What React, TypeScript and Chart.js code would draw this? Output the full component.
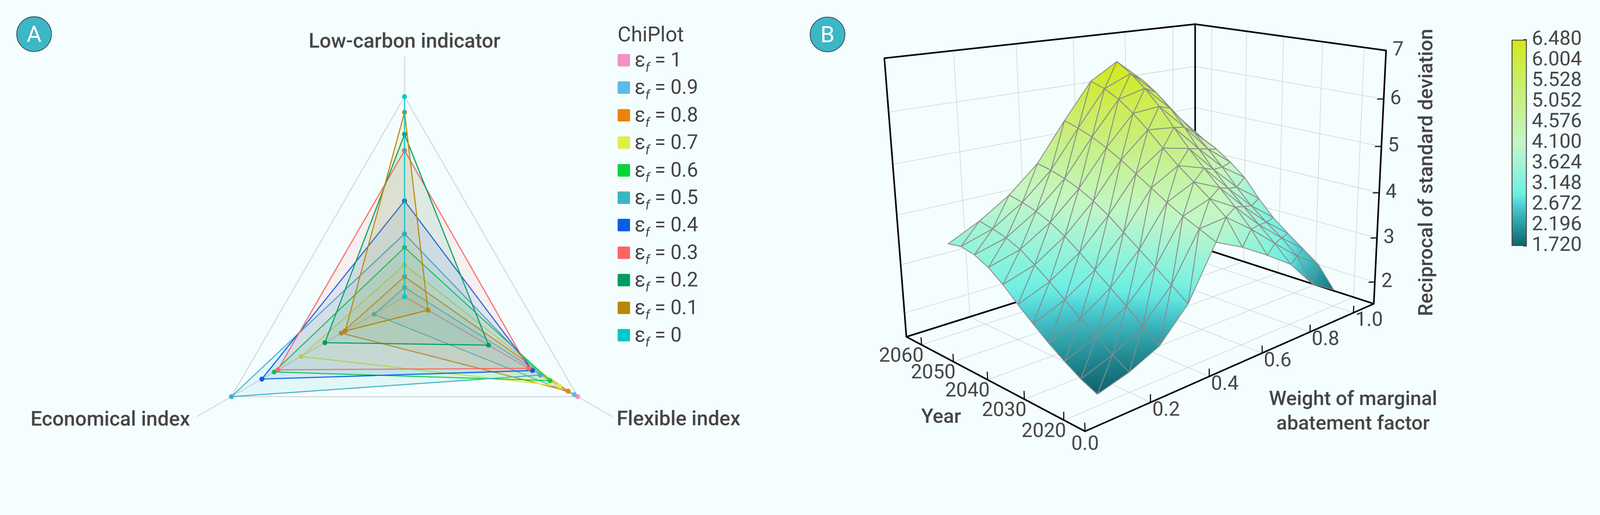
import { useEffect, useRef } from 'react';
import { Chart, registerables } from 'chart.js';

Chart.register(...registerables);

const PAGE_W = 4505, PAGE_H = 1318;
const PAGE_BG = '#F5FEFE';
const INK = '#444444';
const FONT = 'Roboto, "Noto Sans", sans-serif';

// ---------- panel A : radar ----------
const RADAR_AXES = ['Low-carbon indicator', 'Flexible index', 'Economical index'];
const EPS_LABELS = ['1', '0.9', '0.8', '0.7', '0.6', '0.5', '0.4', '0.3', '0.2', '0.1', '0'];
const EPS_COLORS = ['#F291C4', '#5ABCE6', '#EE8208', '#DDEE4A', '#06D43A', '#3CB4C4', '#0A5EE6', '#FF6464', '#009E60', '#B8860B', '#00C8CC'];
const LOW_CARBON = [0, 0.046, 0.1, 0.159, 0.246, 0.314, 0.479, 0.731, 0.812, 0.922, 1.0];
const FLEXIBLE = [1.0, 0.98, 0.945, 0.894, 0.84, 0.784, 0.739, 0.717, 0.485, 0.135, 0];
const ECONOMICAL = [0, 0.176, 0.365, 0.598, 0.753, 1.0, 0.824, 0.732, 0.46, 0.343, 0];

// ---------- panel B : surface ----------
const YEARS = [2020, 2024, 2028, 2032, 2036, 2040, 2044, 2048, 2052, 2056, 2060];
const WEIGHTS = [0.1, 0.2, 0.3, 0.4, 0.5, 0.6, 0.7, 0.8, 0.9, 1.0];
const Z_2020 = [1.72, 1.89, 2.16, 2.77, 3.79, 3.52, 3.18, 2.81, 2.19, 1.87];
const Z_2024 = [1.86, 2.08, 2.42, 3.02, 3.95, 4.02, 3.62, 3.15, 2.7, 2.33];
const Z_2028 = [2.05, 2.3, 2.68, 3.26, 4.1, 4.3, 3.98, 3.45, 3.0, 2.58];
const Z_2032 = [2.26, 2.52, 2.92, 3.5, 4.28, 4.55, 4.3, 3.75, 3.25, 2.83];
const Z_2036 = [2.5, 2.76, 3.16, 3.74, 4.48, 4.8, 4.62, 4.05, 3.52, 3.1];
const Z_2040 = [2.75, 3.0, 3.4, 3.98, 4.68, 5.08, 4.95, 4.38, 3.85, 3.45];
const Z_2044 = [3.02, 3.22, 3.62, 4.18, 4.88, 5.38, 5.32, 4.75, 4.22, 3.85];
const Z_2048 = [3.24, 3.42, 3.8, 4.34, 5.05, 5.65, 5.7, 5.15, 4.55, 4.12];
const Z_2052 = [3.38, 3.55, 3.93, 4.46, 5.2, 5.88, 6.02, 5.5, 4.85, 4.35];
const Z_2056 = [3.44, 3.63, 4.02, 4.55, 5.31, 6.04, 6.28, 5.78, 5.1, 4.52];
const Z_2060 = [3.39, 3.69, 4.08, 4.61, 5.4, 6.14, 6.48, 6.0, 5.3, 4.65];
const Z_ROWS = [Z_2020, Z_2024, Z_2028, Z_2032, Z_2036, Z_2040, Z_2044, Z_2048, Z_2052, Z_2056, Z_2060];

const YEAR_TICKS = [2020, 2030, 2040, 2050, 2060];
const WEIGHT_TICKS = [0, 0.2, 0.4, 0.6, 0.8, 1.0];
const Z_TICKS = [2, 3, 4, 5, 6, 7];
const WEIGHT_RANGE = [0, 1.1];
const YEAR_RANGE = [2015, 2065];
const Z_RANGE = [1.5, 7];

// colour bar
const CB_TICKS = [1.72, 2.196, 2.672, 3.148, 3.624, 4.1, 4.576, 5.052, 5.528, 6.004, 6.48];
const CMAP_VALUES = [1.72, 2.196, 2.672, 2.9, 3.148, 3.624, 4.1, 4.576, 5.052, 5.528, 6.004, 6.48];
const CMAP_COLORS = ['#0E626D', '#2A9AA3', '#4FD0D5', '#6CEFE4', '#7FF2DF', '#A4F4D5', '#C4F7C6', '#C4F4A6', '#C7F087', '#CBEE66', '#CEEC40', '#D4EA14'];

// perspective camera fitted to the view of panel B (box coords 0..1 -> page px)
const CAMERA = [
  [2052.7, 3.1, -286, 3055],
  [-85, -78, -953.6, 1214],
  [0.3205, 0.1983, -0.085, 1],
];

const W0 = WEIGHT_RANGE[0], W1 = WEIGHT_RANGE[1];
const Y0 = YEAR_RANGE[0], Y1 = YEAR_RANGE[1];
const Z0 = Z_RANGE[0], Z1 = Z_RANGE[1];

function project(wt: number, yr: number, z: number) {
  const u = (wt - W0) / (W1 - W0);
  const v = (yr - Y0) / (Y1 - Y0);
  const w = (z - Z0) / (Z1 - Z0);
  const [r0, r1, r2] = CAMERA;
  const d = r2[0] * u + r2[1] * v + r2[2] * w + r2[3];
  return {
    x: (r0[0] * u + r0[1] * v + r0[2] * w + r0[3]) / d,
    y: (r1[0] * u + r1[1] * v + r1[2] * w + r1[3]) / d,
    d,
  };
}

function hexRgb(hex: string) {
  const n = parseInt(hex.slice(1), 16);
  return [n >> 16, (n >> 8) & 255, n & 255];
}
function rgba(hex: string, a: number) {
  const [r, g, b] = hexRgb(hex);
  return `rgba(${r},${g},${b},${a})`;
}
function colorAt(z: number) {
  const vs = CMAP_VALUES;
  if (!(z > vs[0])) return CMAP_COLORS[0];
  if (z >= vs[vs.length - 1]) return CMAP_COLORS[vs.length - 1];
  let k = 0;
  while (z > vs[k + 1]) k++;
  const t = (z - vs[k]) / (vs[k + 1] - vs[k]);
  const a = hexRgb(CMAP_COLORS[k]), b = hexRgb(CMAP_COLORS[k + 1]);
  const c = a.map((x, i) => Math.round(x + (b[i] - x) * t));
  return `rgb(${c[0]},${c[1]},${c[2]})`;
}

type P3 = [number, number, number];

function toData(segs: [P3, P3][]) {
  const out: any[] = [];
  segs.forEach(([a, b]) => {
    const p = project(a[0], a[1], a[2]);
    const q = project(b[0], b[1], b[2]);
    out.push({ x: p.x, y: p.y }, { x: q.x, y: q.y }, { x: null, y: null });
  });
  return out;
}

function gridSegments() {
  const s: [P3, P3][] = [];
  WEIGHT_TICKS.filter((t) => t > 0).forEach((wt) => {
    s.push([[wt, Y1, Z0], [wt, Y1, Z1]]);
    s.push([[wt, Y0, Z0], [wt, Y1, Z0]]);
  });
  YEAR_TICKS.forEach((yr) => {
    s.push([[W1, yr, Z0], [W1, yr, Z1]]);
    s.push([[W0, yr, Z0], [W1, yr, Z0]]);
  });
  Z_TICKS.filter((z) => z < Z1).forEach((z) => {
    s.push([[W0, Y1, z], [W1, Y1, z]]);
    s.push([[W1, Y0, z], [W1, Y1, z]]);
  });
  return s;
}

function boxSegments(): [P3, P3][] {
  return [
    [[W0, Y1, Z1], [W1, Y1, Z1]],
    [[W1, Y1, Z1], [W1, Y0, Z1]],
    [[W0, Y1, Z0], [W0, Y1, Z1]],
    [[W1, Y1, Z0], [W1, Y1, Z1]],
    [[W1, Y0, Z0], [W1, Y0, Z1]],
    [[W0, Y0, Z0], [W1, Y0, Z0]],
    [[W0, Y0, Z0], [W0, Y1, Z0]],
    [[W0, Y1, Z0], [W1, Y1, Z0]],
    [[W1, Y0, Z0], [W1, Y1, Z0]],
  ];
}

function tickSegments() {
  const s: [P3, P3][] = [];
  YEAR_TICKS.forEach((yr) => s.push([[W0, yr, Z0], [W0, yr, Z0 + 0.15]]));
  WEIGHT_TICKS.forEach((wt) => s.push([[wt, Y0, Z0], [wt, Y0, Z0 + 0.15]]));
  Z_TICKS.filter((z) => z < Z1).forEach((z) => s.push([[W1, Y0, z], [W1 - 0.013, Y0 + 0.8, z]]));
  return s;
}

function triangles() {
  const out: any[] = [];
  const node = (i: number, j: number) => ({ wt: WEIGHTS[j], yr: YEARS[i], z: Z_ROWS[i][j] });
  for (let i = 0; i < YEARS.length - 1; i++) {
    for (let j = 0; j < WEIGHTS.length - 1; j++) {
      const A = node(i, j), B = node(i, j + 1), C = node(i + 1, j + 1), D = node(i + 1, j);
      [[A, B, C], [A, C, D]].forEach((tri) => {
        const pts = tri.map((p) => project(p.wt, p.yr, p.z));
        out.push({ pts, zs: tri.map((p) => p.z), depth: (pts[0].d + pts[1].d + pts[2].d) / 3 });
      });
    }
  }
  return out;
}

const finite = (...v: number[]) => v.every((x) => Number.isFinite(x));

function triFill(chart: any, tri: any) {
  const z = tri.zs;
  const zlo = Math.min(...z), zhi = Math.max(...z);
  const flat = colorAt((z[0] + z[1] + z[2]) / 3);
  const xs = chart && chart.scales && chart.scales.x, ys = chart && chart.scales && chart.scales.y;
  if (!xs || !ys || !chart.ctx) return flat;
  const P = tri.pts.map((p: any) => [xs.getPixelForValue(p.x), ys.getPixelForValue(p.y)]);
  const [x1, y1] = P[0], [x2, y2] = P[1], [x3, y3] = P[2];
  if (!finite(x1, y1, x2, y2, x3, y3)) return flat;
  const det = (x2 - x1) * (y3 - y1) - (x3 - x1) * (y2 - y1);
  if (Math.abs(det) < 1e-6 || zhi - zlo < 1e-4) return flat;
  const a = ((z[1] - z[0]) * (y3 - y1) - (z[2] - z[0]) * (y2 - y1)) / det;
  const b = ((x2 - x1) * (z[2] - z[0]) - (x3 - x1) * (z[1] - z[0])) / det;
  const g2 = a * a + b * b;
  if (!(g2 > 1e-12)) return flat;
  const s0 = (zlo - z[0]) / g2, s1 = (zhi - z[0]) / g2;
  const gx0 = x1 + a * s0, gy0 = y1 + b * s0, gx1 = x1 + a * s1, gy1 = y1 + b * s1;
  if (!finite(gx0, gy0, gx1, gy1)) return flat;
  const grad = chart.ctx.createLinearGradient(gx0, gy0, gx1, gy1);
  for (let k = 0; k <= 4; k++) grad.addColorStop(k / 4, colorAt(zlo + (k / 4) * (zhi - zlo)));
  return grad;
}

const box3dText = {
  id: 'box3dText',
  afterDatasetsDraw(chart: any) {
    const { ctx } = chart;
    const X = (v: number) => chart.scales.x.getPixelForValue(v);
    const Y = (v: number) => chart.scales.y.getPixelForValue(v);
    const put = (t: string, x: number, y: number, align = 'center') => {
      ctx.textAlign = align;
      ctx.fillText(t, X(x), Y(y));
    };
    ctx.save();
    ctx.fillStyle = INK;
    ctx.textBaseline = 'middle';
    ctx.font = `56px ${FONT}`;
    YEAR_TICKS.forEach((yr) => {
      const p = project(W0, yr, Z0);
      put(String(yr), p.x - 57, p.y + 33);
    });
    WEIGHT_TICKS.forEach((wt) => {
      const p = project(wt, Y0, Z0);
      if (wt === 0) put('0.0', p.x, p.y + 38);
      else put(wt.toFixed(1), p.x + 44, p.y + 23);
    });
    Z_TICKS.forEach((z) => {
      const p = project(W1, Y0, z);
      put(String(z), p.x + 18, p.y, 'left');
    });
    ctx.font = `500 56px ${FONT}`;
    const ym = project(W0, 2040, Z0);
    put('Year', ym.x - 131, ym.y + 107);
    const wm = project(0.55, Y0, Z0);
    put('Weight of marginal', wm.x + 292, wm.y + 116);
    put('abatement factor', wm.x + 292, wm.y + 185);
    const zm = project(W1, Y0, 4.25);
    ctx.translate(X(zm.x + 134), Y(zm.y - 25));
    ctx.rotate(-Math.PI / 2);
    ctx.textAlign = 'center';
    ctx.fillText('Reciprocal of standard deviation', 0, 0);
    ctx.restore();
  },
};

// panel B canvas placement (page px)
const B_LEFT = 2250, B_TOP = 0, B_W = 2000, B_H = 1318;

function lineSet(data: any[], color: string, width: number, order: number) {
  return {
    data, showLine: true, fill: false, borderColor: color, backgroundColor: color,
    borderWidth: width, pointRadius: 0, order, borderCapStyle: 'round',
  };
}

function surfaceConfig(): any {
  const datasets: any[] = [];
  datasets.push(lineSet(toData(gridSegments()), '#D0D0D0', 1.6, 1000));
  datasets.push(lineSet(toData(boxSegments()), '#000000', 4.5, 999));
  triangles().forEach((tri) => {
    datasets.push({
      data: [...tri.pts, tri.pts[0]].map((p: any) => ({ x: p.x, y: p.y })),
      showLine: true,
      fill: 'shape',
      backgroundColor: (c: any) => triFill(c.chart, tri),
      borderColor: '#8A8A8A',
      borderWidth: 2.4,
      borderJoinStyle: 'round',
      pointRadius: 0,
      order: tri.depth,
    });
  });
  datasets.push(lineSet(toData(tickSegments()), '#000000', 3, -1));
  return {
    type: 'scatter',
    data: { datasets },
    options: {
      responsive: false,
      animation: false,
      events: [],
      layout: { padding: 0, autoPadding: false },
      plugins: { legend: { display: false }, tooltip: { enabled: false }, colors: { enabled: false } },
      scales: {
        x: { type: 'linear', min: B_LEFT, max: B_LEFT + B_W, display: false },
        y: { type: 'linear', min: B_TOP, max: B_TOP + B_H, reverse: true, display: false },
      },
    },
    plugins: [box3dText],
  };
}

function radarConfig(): any {
  return {
    type: 'radar',
    data: {
      labels: RADAR_AXES,
      datasets: EPS_LABELS.map((e, i) => ({
        label: `εf = ${e}`,
        data: [LOW_CARBON[i], FLEXIBLE[i], ECONOMICAL[i]],
        borderColor: EPS_COLORS[i],
        backgroundColor: rgba(EPS_COLORS[i], 0.09),
        fill: true,
        borderWidth: 3,
        pointRadius: 7,
        pointBorderWidth: 0,
        pointBackgroundColor: EPS_COLORS[i],
        order: EPS_LABELS.length - 1 - i,
      })),
    },
    options: {
      responsive: false,
      animation: false,
      events: [],
      layout: { padding: 0 },
      plugins: { legend: { display: false }, tooltip: { enabled: false }, colors: { enabled: false } },
      scales: {
        r: {
          min: 0,
          max: 1.2,
          ticks: { display: false, stepSize: 0.2 },
          grid: {
            color: (c: any) => (c.tick && Math.abs(c.tick.value - 1) < 1e-6 ? '#D3D9DA' : 'rgba(0,0,0,0)'),
            lineWidth: 3,
          },
          angleLines: { color: '#D3D9DA', lineWidth: 3 },
          pointLabels: {
            color: INK,
            padding: (c: any) => [5, 14, 22][c.index] ?? 5,
            font: (c: any) => ({
              family: FONT,
              size: 57,
              weight: 500,
              lineHeight: c.index === 0 ? 1.2 : c.index === 1 ? 0.1 : 0,
            }),
          },
        },
      },
    },
  };
}

function colorBarConfig(): any {
  const lo = CB_TICKS[0], hi = CB_TICKS[CB_TICKS.length - 1];
  return {
    type: 'bar',
    data: {
      labels: [''],
      datasets: [{
        data: [[lo, hi]],
        backgroundColor: (c: any) => {
          const a = c.chart.chartArea;
          if (!a || !finite(a.top, a.bottom) || a.bottom === a.top) return CMAP_COLORS[5];
          const g = c.chart.ctx.createLinearGradient(0, a.bottom, 0, a.top);
          CMAP_VALUES.forEach((v, k) => g.addColorStop((v - lo) / (hi - lo), CMAP_COLORS[k]));
          return g;
        },
        borderColor: INK,
        borderWidth: 3,
        borderSkipped: false,
        barPercentage: 1,
        categoryPercentage: 1,
      }],
    },
    options: {
      responsive: false,
      animation: false,
      events: [],
      layout: { padding: { top: 40, bottom: 40, left: 0, right: 0 } },
      plugins: { legend: { display: false }, tooltip: { enabled: false }, colors: { enabled: false } },
      scales: {
        x: { display: false },
        y: {
          position: 'right',
          min: lo,
          max: hi,
          afterBuildTicks: (s: any) => { s.ticks = CB_TICKS.map((v) => ({ value: v })); },
          afterFit: (s: any) => { s.width = 200; },
          ticks: {
            autoSkip: false,
            callback: (v: any) => Number(v).toFixed(3),
            color: INK,
            font: { family: FONT, size: 56 },
            padding: 24,
          },
          grid: { drawOnChartArea: false, drawTicks: true, tickLength: -10, color: INK, lineWidth: 3 },
          border: { display: false },
        },
      },
    },
  };
}

function ChartBox({ make, left, top, width, height }: any) {
  const ref = useRef<HTMLCanvasElement>(null);
  useEffect(() => {
    if (!ref.current) return;
    let chart: Chart | null = null;
    try {
      chart = new Chart(ref.current, make());
    } catch (err) {
      console.error(err);
    }
    return () => { chart?.destroy(); };
    // eslint-disable-next-line react-hooks/exhaustive-deps
  }, []);
  return (
    <canvas ref={ref} width={width} height={height}
      style={{ position: 'absolute', left, top, width, height }} />
  );
}

function Badge({ letter, cx, cy }: any) {
  return (
    <div style={{
      position: 'absolute', left: cx - 50, top: cy - 50, width: 100, height: 100,
      borderRadius: '50%', background: '#3DB6C6', border: '2px solid #2E4A50', boxSizing: 'border-box',
      color: '#fff', font: `64px ${FONT}`, display: 'flex', alignItems: 'center', justifyContent: 'center',
    }}>{letter}</div>
  );
}

function Legend() {
  return (
    <div style={{ position: 'absolute', left: 1739, top: 0, color: INK }}>
      <div style={{ position: 'absolute', left: 0, top: 62, font: `58px ${FONT}`, lineHeight: '70px', whiteSpace: 'nowrap' }}>
        ChiPlot
      </div>
      {EPS_LABELS.map((e, i) => (
        <div key={e} style={{
          position: 'absolute', left: 0, top: 187 + 77.4 * i - 54, whiteSpace: 'nowrap',
          font: `56px ${FONT}`, lineHeight: '70px',
        }}>
          <span style={{ display: 'inline-block', width: 35, height: 35, background: EPS_COLORS[i], borderRadius: 3, marginRight: 13 }} />
          ε<span style={{ fontStyle: 'italic', fontSize: 36, verticalAlign: '-15px' }}>f</span> = {e}
        </div>
      ))}
    </div>
  );
}

export default function App() {
  // the layout is drawn in 4505 x 1318 picture px, scaled to whatever the viewport really is
  const k = typeof window !== 'undefined' && window.innerWidth > 0 ? window.innerWidth / PAGE_W : 1;
  return (
    <div style={{ position: 'fixed', left: 0, top: 0, right: 0, bottom: 0, overflow: 'hidden', background: PAGE_BG }}>
      <div style={{
        position: 'absolute', left: 0, top: 0, width: PAGE_W, height: PAGE_H,
        transform: `scale(${k})`, transformOrigin: '0 0', fontFamily: FONT,
      }}>
        <ChartBox make={radarConfig} left={-31} top={50} width={2340} height={1499} />
        <ChartBox make={surfaceConfig} left={B_LEFT} top={B_TOP} width={B_W} height={B_H} />
        <ChartBox make={colorBarConfig} left={4256} top={54} width={243} height={696} />
        <Legend />
        <Badge letter="A" cx={96} cy={96} />
        <Badge letter="B" cx={2330} cy={97} />
      </div>
    </div>
  );
}
